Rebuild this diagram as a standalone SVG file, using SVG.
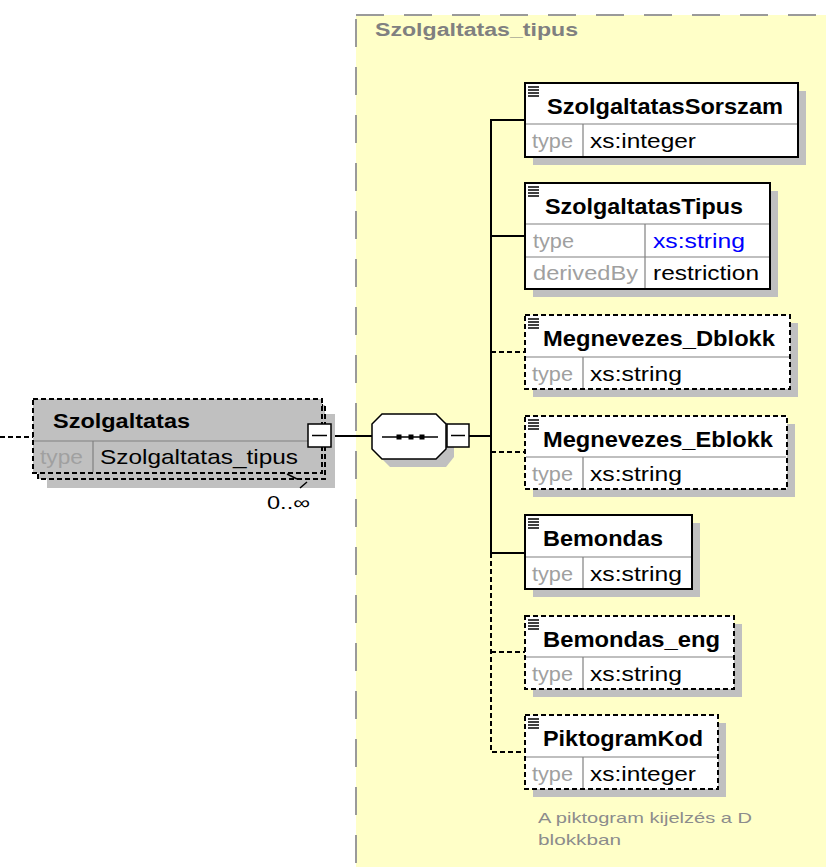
<svg xmlns="http://www.w3.org/2000/svg" width="826" height="867" viewBox="0 0 826 867">
<style>
  text { font-family: "Liberation Sans", Arial, sans-serif; }
  .name { font-size: 22px; font-weight: bold; fill: #000; }
  .pname { font-size: 20px; font-weight: bold; fill: #000; }
  .lbl { font-size: 21px; fill: #a0a0a0; }
  .val { font-size: 21px; fill: #000; }
  .blue { font-size: 21px; fill: #0000ff; }
  .box { fill: #fff; stroke: #000; stroke-width: 2; }
  .opt { stroke-dasharray: 5 3; }
  .sh { fill: #c0c0c0; }
  .sep { stroke: #808080; stroke-width: 1.2; fill: none; }
  .icon { stroke: #000; stroke-width: 1.3; }
  .conn { stroke: #000; stroke-width: 2; fill: none; }
  .dconn { stroke: #000; stroke-width: 2; fill: none; stroke-dasharray: 5 3; }
</style>

<!-- complex type area -->
<g id="Szolgaltatas_tipus_area">
  <rect x="356" y="15" width="490" height="870" fill="#ffffc8" stroke="#9a9a9a" stroke-width="2" stroke-dasharray="28 20"/>
  <text x="375" y="36" font-size="18" font-weight="bold" fill="#808080" textLength="203" lengthAdjust="spacingAndGlyphs">Szolgaltatas_tipus</text>
</g>

<!-- connectors -->
<g id="connectors">
  <line x1="0" y1="437" x2="33" y2="437" class="dconn" stroke-dasharray="6 4"/>
  <line x1="331" y1="436" x2="372" y2="436" class="conn"/>
  <line x1="469" y1="436" x2="491" y2="436" class="conn"/>
  <polyline points="525,120 491,120 491,553 525,553" class="conn"/>
  <line x1="491" y1="236" x2="525" y2="236" class="conn"/>
  <line x1="491" y1="352" x2="525" y2="352" class="dconn"/>
  <line x1="491" y1="452" x2="525" y2="452" class="dconn"/>
  <polyline points="491,553 491,752 525,752" class="dconn"/>
  <line x1="491" y1="652" x2="525" y2="652" class="dconn"/>
</g>

<!-- parent element -->
<g id="Szolgaltatas">
  <rect x="47" y="414" width="288" height="74" class="sh"/>
  <rect x="38" y="405" width="287" height="74" fill="#c0c0c0" stroke="#000" stroke-width="2" stroke-dasharray="5 3"/>
  <rect x="33" y="399" width="289" height="74" fill="#c0c0c0" stroke="#000" stroke-width="2" stroke-dasharray="5 3"/>
  <line x1="34" y1="441" x2="321" y2="441" class="sep"/>
  <line x1="93" y1="441" x2="93" y2="472" class="sep"/>
  <text x="53" y="428" class="pname" textLength="137" lengthAdjust="spacingAndGlyphs">Szolgaltatas</text>
  <text x="40" y="464" class="lbl" textLength="43" lengthAdjust="spacingAndGlyphs">type</text>
  <text x="100" y="464" class="val" textLength="198" lengthAdjust="spacingAndGlyphs">Szolgaltatas_tipus</text>
  <path d="M287,474 L297,479 M300,488 L307,482" stroke="#000" stroke-width="1.5" fill="none"/>
  <rect x="308" y="424" width="23" height="23" fill="#fff" stroke="#000" stroke-width="1.5"/>
  <line x1="312" y1="435.5" x2="327" y2="435.5" stroke="#000" stroke-width="1.5"/>
  <text x="267" y="509" font-size="18" fill="#000" textLength="43" lengthAdjust="spacingAndGlyphs">0..∞</text>
</g>

<!-- sequence compositor -->
<g id="sequence">
  <polygon points="390,422 446,422 454,432 454,457 446,467 390,467 380,457 380,432" class="sh"/>
  <polygon points="382,414 436,414 446,424 446,449 436,459 382,459 372,449 372,424" fill="#fff" stroke="#000" stroke-width="1.5"/>
  <line x1="382" y1="437" x2="438" y2="437" stroke="#000" stroke-width="1.5"/>
  <rect x="396.5" y="434.5" width="5" height="5" fill="#000"/>
  <rect x="408.5" y="434.5" width="5" height="5" fill="#000"/>
  <rect x="419.5" y="434.5" width="5" height="5" fill="#000"/>
  <rect x="447" y="424" width="22" height="23" fill="#fff" stroke="#000" stroke-width="1.5"/>
  <line x1="451" y1="435.5" x2="465" y2="435.5" stroke="#000" stroke-width="1.5"/>
</g>

<!-- child 1 -->
<g id="SzolgaltatasSorszam">
  <rect x="533" y="91" width="273" height="74" class="sh"/>
  <rect x="525" y="83" width="273" height="74" class="box"/>
  <line x1="526" y1="124" x2="797" y2="124" class="sep"/>
  <line x1="583" y1="124" x2="583" y2="156" class="sep"/>
  <path d="M528,87 h11 M528,90 h11 M528,93 h11 M528,96 h11" class="icon"/>
  <text x="547" y="114" class="name" textLength="236" lengthAdjust="spacingAndGlyphs">SzolgaltatasSorszam</text>
  <text x="532" y="148" class="lbl" textLength="41" lengthAdjust="spacingAndGlyphs">type</text>
  <text x="590" y="148" class="val" textLength="106" lengthAdjust="spacingAndGlyphs">xs:integer</text>
</g>

<!-- child 2 -->
<g id="SzolgaltatasTipus">
  <rect x="533" y="191" width="245" height="106" class="sh"/>
  <rect x="525" y="183" width="245" height="106" class="box"/>
  <line x1="526" y1="224" x2="769" y2="224" class="sep"/>
  <line x1="526" y1="257" x2="769" y2="257" class="sep"/>
  <line x1="645" y1="224" x2="645" y2="288" class="sep"/>
  <path d="M528,187 h11 M528,190 h11 M528,193 h11 M528,196 h11" class="icon"/>
  <text x="545" y="214" class="name" textLength="198" lengthAdjust="spacingAndGlyphs">SzolgaltatasTipus</text>
  <text x="533" y="248" class="lbl" textLength="41" lengthAdjust="spacingAndGlyphs">type</text>
  <text x="653" y="248" class="blue" textLength="92" lengthAdjust="spacingAndGlyphs">xs:string</text>
  <text x="533" y="280" class="lbl" textLength="105" lengthAdjust="spacingAndGlyphs">derivedBy</text>
  <text x="653" y="280" class="val" textLength="106" lengthAdjust="spacingAndGlyphs">restriction</text>
</g>

<!-- child 3 -->
<g id="Megnevezes_Dblokk">
  <rect x="533" y="323" width="265" height="74" class="sh"/>
  <rect x="525" y="315" width="265" height="74" class="box opt"/>
  <line x1="526" y1="357" x2="789" y2="357" class="sep"/>
  <line x1="583" y1="357" x2="583" y2="388" class="sep"/>
  <path d="M528,319 h11 M528,322 h11 M528,325 h11 M528,328 h11" class="icon"/>
  <text x="543" y="346" class="name" textLength="232" lengthAdjust="spacingAndGlyphs">Megnevezes_Dblokk</text>
  <text x="532" y="381" class="lbl" textLength="41" lengthAdjust="spacingAndGlyphs">type</text>
  <text x="590" y="381" class="val" textLength="92" lengthAdjust="spacingAndGlyphs">xs:string</text>
</g>

<!-- child 4 -->
<g id="Megnevezes_Eblokk">
  <rect x="533" y="424" width="262" height="73" class="sh"/>
  <rect x="525" y="416" width="262" height="73" class="box opt"/>
  <line x1="526" y1="457" x2="786" y2="457" class="sep"/>
  <line x1="583" y1="457" x2="583" y2="488" class="sep"/>
  <path d="M528,420 h11 M528,423 h11 M528,426 h11 M528,429 h11" class="icon"/>
  <text x="543" y="447" class="name" textLength="230" lengthAdjust="spacingAndGlyphs">Megnevezes_Eblokk</text>
  <text x="532" y="481" class="lbl" textLength="41" lengthAdjust="spacingAndGlyphs">type</text>
  <text x="590" y="481" class="val" textLength="92" lengthAdjust="spacingAndGlyphs">xs:string</text>
</g>

<!-- child 5 -->
<g id="Bemondas">
  <rect x="533" y="523" width="167" height="74" class="sh"/>
  <rect x="525" y="515" width="167" height="74" class="box"/>
  <line x1="526" y1="557" x2="691" y2="557" class="sep"/>
  <line x1="583" y1="557" x2="583" y2="588" class="sep"/>
  <path d="M528,519 h11 M528,522 h11 M528,525 h11 M528,528 h11" class="icon"/>
  <text x="543" y="546" class="name" textLength="120" lengthAdjust="spacingAndGlyphs">Bemondas</text>
  <text x="532" y="581" class="lbl" textLength="41" lengthAdjust="spacingAndGlyphs">type</text>
  <text x="590" y="581" class="val" textLength="92" lengthAdjust="spacingAndGlyphs">xs:string</text>
</g>

<!-- child 6 -->
<g id="Bemondas_eng">
  <rect x="533" y="624" width="209" height="73" class="sh"/>
  <rect x="525" y="616" width="209" height="73" class="box opt"/>
  <line x1="526" y1="657" x2="733" y2="657" class="sep"/>
  <line x1="583" y1="657" x2="583" y2="688" class="sep"/>
  <path d="M528,620 h11 M528,623 h11 M528,626 h11 M528,629 h11" class="icon"/>
  <text x="543" y="647" class="name" textLength="177" lengthAdjust="spacingAndGlyphs">Bemondas_eng</text>
  <text x="532" y="681" class="lbl" textLength="41" lengthAdjust="spacingAndGlyphs">type</text>
  <text x="590" y="681" class="val" textLength="92" lengthAdjust="spacingAndGlyphs">xs:string</text>
</g>

<!-- child 7 -->
<g id="PiktogramKod">
  <rect x="533" y="723" width="193" height="74" class="sh"/>
  <rect x="525" y="715" width="193" height="74" class="box opt"/>
  <line x1="526" y1="757" x2="717" y2="757" class="sep"/>
  <line x1="583" y1="757" x2="583" y2="788" class="sep"/>
  <path d="M528,719 h11 M528,722 h11 M528,725 h11 M528,728 h11" class="icon"/>
  <text x="543" y="746" class="name" textLength="160" lengthAdjust="spacingAndGlyphs">PiktogramKod</text>
  <text x="532" y="781" class="lbl" textLength="41" lengthAdjust="spacingAndGlyphs">type</text>
  <text x="590" y="781" class="val" textLength="106" lengthAdjust="spacingAndGlyphs">xs:integer</text>
  <text x="538" y="823" font-size="15" fill="#8c8c8c" textLength="214" lengthAdjust="spacingAndGlyphs">A piktogram kijelzés a D</text>
  <text x="538" y="845" font-size="15" fill="#8c8c8c" textLength="83" lengthAdjust="spacingAndGlyphs">blokkban</text>
</g>
</svg>
